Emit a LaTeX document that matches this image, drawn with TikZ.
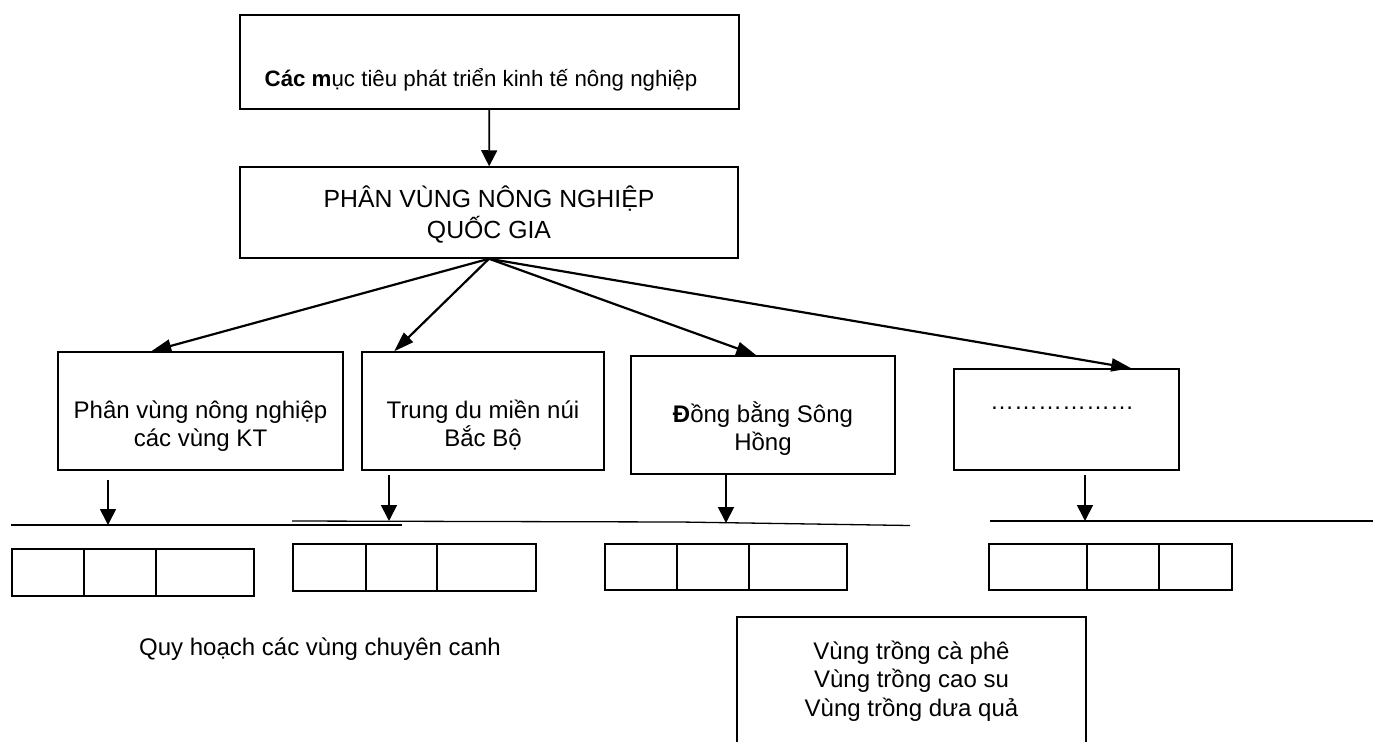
\documentclass[tikz,border=0pt]{standalone}
\usepackage{fontspec}
\setmainfont{Liberation Sans}
\usepackage{tikz}
\usetikzlibrary{arrows.meta,positioning}

\begin{document}
\begin{tikzpicture}[x=1pt, y=-1pt,
    box/.style={rectangle, draw, line width=1.5pt, inner sep=0pt},
    lbl/.style={font=\fontsize{24}{28}\selectfont, align=center, inner sep=0pt},
    down/.style={-{Triangle[length=16pt,width=16pt]}, line width=1.7pt},
    fan/.style={-{Triangle[length=20pt,width=13pt]}, line width=2.2pt},
    rule/.style={line width=1.3pt},
    cell/.style={line width=1.5pt}]
    \useasboundingbox (0,0) rectangle (1373,742);

    % top of the tree
    \node (goal) [box, minimum width=499pt, minimum height=94pt] at (489.5,62) {};
    \node (goaltxt) [lbl, font=\fontsize{22.3}{26}\selectfont, anchor=base] at (481,86) {\textbf{Các m}ục tiêu phát triển kinh tế nông nghiệp};
    \node (zone) [box, minimum width=498pt, minimum height=91pt] at (489,212.5) {};
    \node (zonetxt) [lbl, font=\fontsize{24.8}{31}\selectfont, anchor=base] at (489,238) {PHÂN VÙNG NÔNG NGHIỆP\\QUỐC GIA};
    \draw[down] (goal) -- (zone);

    % regions
    \node (r1) [box, minimum width=285pt, minimum height=118pt] at (200.5,411) {};
    \node (r2) [box, minimum width=242pt, minimum height=118pt] at (483,411) {};
    \node (r3) [box, minimum width=264pt, minimum height=118pt] at (763,415) {};
    \node (r4) [box, minimum width=225pt, minimum height=101pt] at (1066.5,419.5) {};
    \node (r1txt) [lbl, anchor=base] at (200.5,446) {Phân vùng nông nghiệp\\các vùng KT};
    \node (r2txt) [lbl, anchor=base] at (483,446) {Trung du miền núi\\Bắc Bộ};
    \node (r3txt) [lbl, anchor=base] at (763,450) {\textbf{Đ}ồng bằng Sông\\Hồng};
    \node (r4txt) [lbl, anchor=base] at (1062,409.5) {………………};

    \draw[fan] (zone.south) -- ([xshift=94pt]r1.north west);
    \draw[fan] (zone.south) -- ([xshift=33pt]r2.north west);
    \draw[fan] (zone.south) -- ([xshift=126pt]r3.north west);
    \draw[fan] (zone.south) -- ([xshift=178pt]r4.north west);

    % rules under the regions
    \draw[rule] (11,525) -- (402,525);
    \draw[rule] (292,521) -- (680,522) -- (910,525.5);
    \draw[rule] (990,521) -- (1373,521);
    \coordinate (s1) at (108,480);  \coordinate (t1) at (108,525);
    \coordinate (s2) at (389,475);  \coordinate (t2) at (389,521);
    \coordinate (s3) at (726,475);  \coordinate (t3) at (726,523);
    \coordinate (s4) at (1085,475); \coordinate (t4) at (1085,521);
    \foreach \i in {1,...,4}
        \draw[down] (s\i) -- (t\i);

    % empty cells
    \foreach \y/\h/\a/\b/\c/\d in {549/47/12/84/156/254, 544/47/293/366/437/536,
                                   544/46/605/677/749/847, 544/46/989/1087/1159/1232} {
        \draw[cell] (\a,\y) rectangle (\d,\y+\h);
        \draw[cell] (\b,\y) -- (\b,\y+\h);
        \draw[cell] (\c,\y) -- (\c,\y+\h);
    }

    \node (plan) [lbl, anchor=base] at (320,655) {Quy hoạch các vùng chuyên canh};

    % crop list, open at the bottom
    \draw[cell] (737,742) -- (737,617) -- (1086,617) -- (1086,742);
    \node (crops) [lbl, font=\fontsize{24}{28.5}\selectfont, anchor=base] at (911.5,716) {Vùng trồng cà phê\\Vùng trồng cao su\\Vùng trồng dưa quả};
\end{tikzpicture}
\end{document}
